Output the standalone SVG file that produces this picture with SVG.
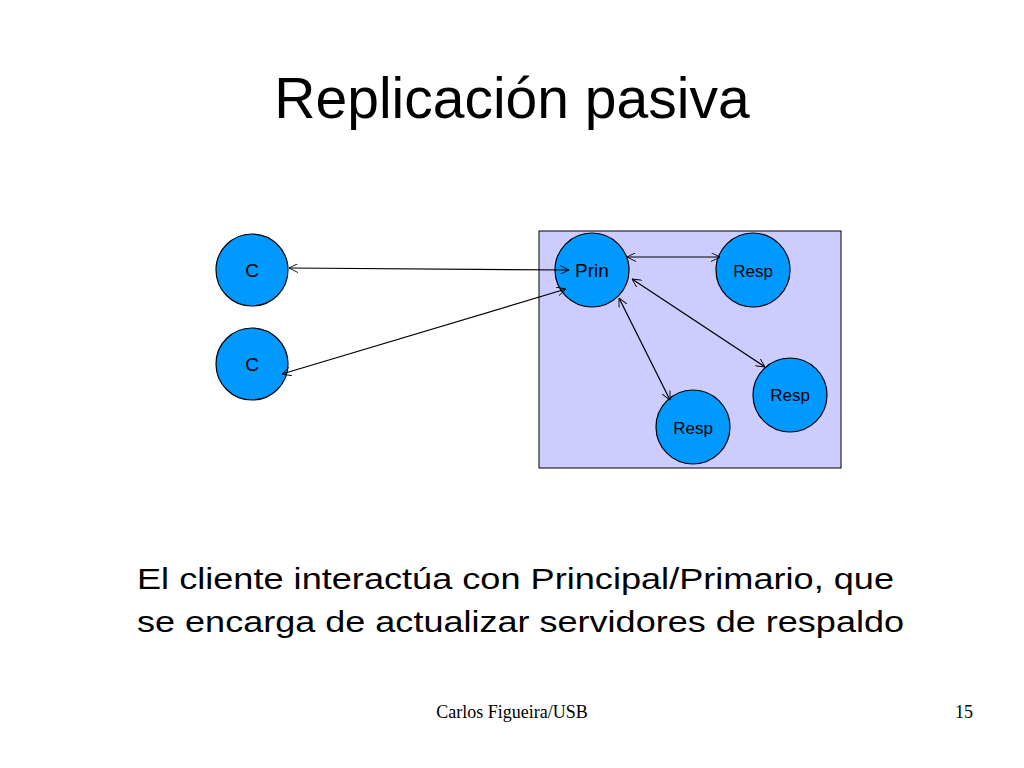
<svg xmlns="http://www.w3.org/2000/svg" width="1024" height="768" viewBox="0 0 1024 768">
<style>
.n{fill:#0099ff;stroke:#000;stroke-width:1.2}
.t{font-family:"Liberation Sans",Arial,sans-serif;fill:#000}
.c line{stroke:#000;stroke-width:1.2;marker-start:url(#a);marker-end:url(#a)}
</style>
<defs><marker id="a" viewBox="0 0 10 10" refX="10" refY="5" markerWidth="9" markerHeight="9" orient="auto-start-reverse" markerUnits="userSpaceOnUse"><path d="M0,0L10,5L0,10" fill="none" stroke="#000"/></marker></defs>
<rect width="1024" height="768" fill="#fff"/>
<text class="t" x="512" y="118" font-size="57" text-anchor="middle">Replicación pasiva</text>
<rect x="539" y="231" width="302" height="237" fill="#ccccff" stroke="#000"/>
<g id="c1"><circle class="n" cx="252" cy="270" r="36"/><text class="t" x="252" y="277" font-size="19" text-anchor="middle">C</text></g>
<g id="c2"><circle class="n" cx="252" cy="364" r="36"/><text class="t" x="252" y="371" font-size="19" text-anchor="middle">C</text></g>
<g id="prin"><circle class="n" cx="592" cy="270" r="37"/><text class="t" x="592" y="277" font-size="19" text-anchor="middle">Prin</text></g>
<g id="r1"><circle class="n" cx="753" cy="270" r="37"/><text class="t" x="753" y="277" font-size="17" text-anchor="middle">Resp</text></g>
<g id="r2"><circle class="n" cx="790" cy="395" r="37"/><text class="t" x="790" y="401" font-size="17" text-anchor="middle">Resp</text></g>
<g id="r3"><circle class="n" cx="693" cy="427" r="37"/><text class="t" x="693" y="434" font-size="17" text-anchor="middle">Resp</text></g>
<g class="c">
<line x1="289" y1="268" x2="569" y2="270"/>
<line x1="282" y1="374" x2="566" y2="289"/>
<line x1="627" y1="257" x2="720" y2="257"/>
<line x1="632" y1="279" x2="765" y2="367"/>
<line x1="619" y1="298" x2="670" y2="400"/>
</g>
<text class="t" x="137" y="589" font-size="30" textLength="757" lengthAdjust="spacingAndGlyphs">El cliente interactúa con Principal/Primario, que</text>
<text class="t" x="137" y="632" font-size="30" textLength="767" lengthAdjust="spacingAndGlyphs">se encarga de actualizar servidores de respaldo</text>
<text x="512" y="718" font-size="18" text-anchor="middle" font-family="Liberation Serif,serif">Carlos Figueira/USB</text>
<text x="964" y="718" font-size="18" text-anchor="middle" font-family="Liberation Serif,serif">15</text>
</svg>
